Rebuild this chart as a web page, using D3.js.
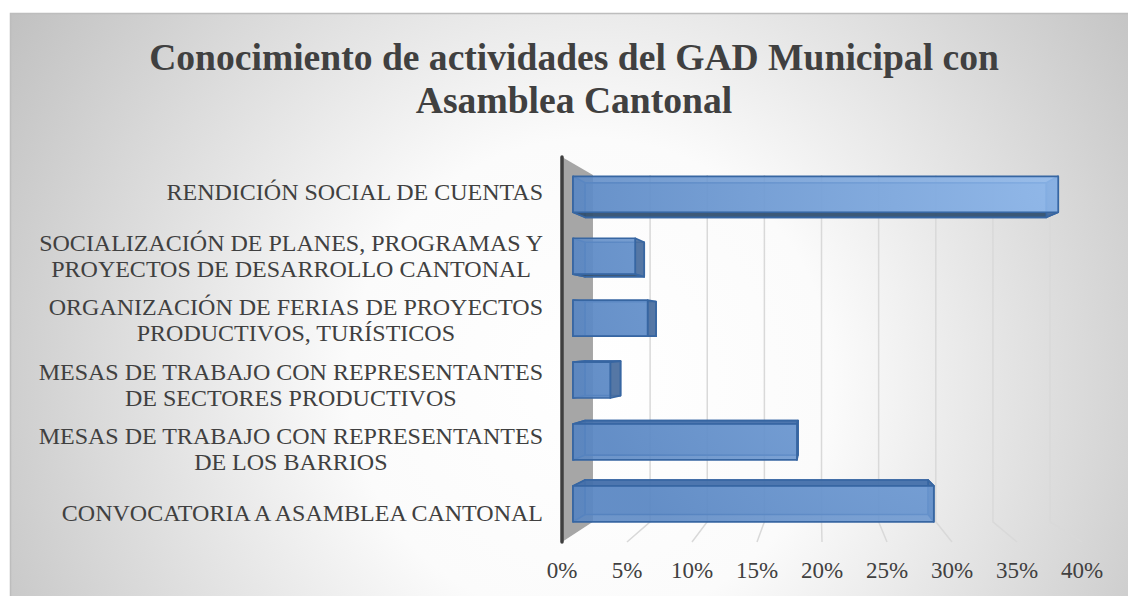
<!DOCTYPE html>
<html lang="es">
<head>
<meta charset="UTF-8">
<title>Conocimiento de actividades del GAD Municipal con Asamblea Cantonal</title>
<script src="https://d3js.org/d3.v7.min.js"></script>
<style>
  body { margin: 0; background: #fff; }
  svg { display: block; }
  svg text { font-family: "Liberation Serif", "Times New Roman", serif; }
</style>
</head>
<body>
<svg width="1128" height="596"></svg>
<script>
// data (top to bottom as in the chart)
const categories = [
  "RENDICIÓN SOCIAL DE CUENTAS",
  "SOCIALIZACIÓN DE PLANES, PROGRAMAS Y\nPROYECTOS DE DESARROLLO CANTONAL",
  "ORGANIZACIÓN DE FERIAS DE PROYECTOS\nPRODUCTIVOS, TURÍSTICOS",
  "MESAS DE TRABAJO CON REPRESENTANTES\nDE SECTORES PRODUCTIVOS",
  "MESAS DE TRABAJO CON REPRESENTANTES\nDE LOS BARRIOS",
  "CONVOCATORIA A ASAMBLEA CANTONAL"
];
const values = [0.39, 0.05, 0.06, 0.03, 0.18, 0.29];
const tickValues = [0, 0.05, 0.10, 0.15, 0.20, 0.25, 0.30, 0.35, 0.40];
const titleLines = ["Conocimiento de actividades del GAD Municipal con", "Asamblea Cantonal"];

const svg = d3.select("svg");
const defs = svg.append("defs");

// chart area background
const bg = defs.append("radialGradient").attr("id", "bg")
  .attr("gradientUnits", "userSpaceOnUse")
  .attr("cx", 590).attr("cy", 380).attr("r", 690);
bg.append("stop").attr("offset", "0%").attr("stop-color", "#ffffff");
bg.append("stop").attr("offset", "35%").attr("stop-color", "#fbfbfb");
bg.append("stop").attr("offset", "100%").attr("stop-color", "#c0c0c0");

const barGrad = defs.append("radialGradient").attr("id", "barGrad")
  .attr("gradientUnits", "userSpaceOnUse")
  .attr("cx", 1060).attr("cy", 185).attr("r", 520);
barGrad.append("stop").attr("offset", "0%").attr("stop-color", "#90b9ec");
barGrad.append("stop").attr("offset", "100%").attr("stop-color", "#5a87c3");

svg.append("rect")
  .attr("x", 10.5).attr("y", 13.5).attr("width", 1130).attr("height", 590)
  .attr("fill", "url(#bg)").attr("stroke", "#bdbdbd").attr("stroke-width", 1.5);

// title
svg.append("text")
  .attr("x", 574).attr("y", 70)
  .attr("text-anchor", "middle")
  .attr("font-size", 37.6).attr("font-weight", "bold").attr("fill", "#404040")
  .selectAll("tspan").data(titleLines).enter().append("tspan")
  .attr("x", 574).attr("dy", (d, i) => i ? 43 : 0)
  .text(d => d);

// scales on the front plane
const x = d3.scaleLinear().domain([0, 0.4]).range([562, 1082]);
const y = d3.scaleBand().domain(categories).range([157, 542])
  .paddingInner(0.42).paddingOuter(0.21);
const yTop = 157, yBot = 542;

// perspective towards the back plane
const vx = 818, vy = 338, kx = 0.879, ky = 0.901;
function P(v, yy, t) {
  const sx = 1 - t * (1 - kx), sy = 1 - t * (1 - ky);
  return [vx + (x(v) - vx) * sx, vy + (yy - vy) * sy];
}
const line = d3.line();

// side wall
svg.append("path")
  .attr("d", line([P(0, yTop, 0), P(0, yTop, 1), P(0, yBot, 1), P(0, yBot, 0)]) + "Z")
  .attr("fill", "#a6a6a6");

// gridlines: back wall + floor
const grid = svg.append("g").attr("stroke", "#d9d9d9").attr("stroke-width", 1.5).attr("fill", "none");
tickValues.filter(d => d > 0).forEach(v => {
  grid.append("path").attr("d", line([P(v, yTop, 1), P(v, yBot, 1), P(v, yBot, 0)]));
});

// wall front edge
svg.append("path")
  .attr("d", line([P(0, yTop, 0), P(0, yBot, 0)]))
  .attr("stroke", "#3f3f3f").attr("stroke-width", 3.5).attr("stroke-linecap", "round");

// bars as boxes
const t1 = 0.355, t2 = 0.744;
const bars = svg.append("g").attr("stroke", "#3766a2").attr("stroke-width", 1.7).attr("stroke-linejoin", "round");
categories.forEach((c, i) => {
  const v = values[i];
  const y0 = y(c), y1 = y(c) + y.bandwidth();
  const f = [P(0, y0, t1), P(v, y0, t1), P(v, y1, t1), P(0, y1, t1)];
  const b = [P(0, y0, t2), P(v, y0, t2), P(v, y1, t2), P(0, y1, t2)];
  const face = (pts, fill, op) => bars.append("path")
    .attr("d", line(pts) + "Z").attr("fill", fill).attr("fill-opacity", op);
  face(b, "#5a87c3", 0.5);
  face([f[0], b[0], b[3], f[3]], "#4b70a3", 0.6);
  if (b[0][1] < f[0][1]) face([f[0], f[1], b[1], b[0]], "#4470aa", 0.92); // top face
  if (b[3][1] > f[3][1]) face([f[3], f[2], b[2], b[3]], "#33506f", 0.92); // bottom face
  face([f[1], b[1], b[2], f[2]], "#4b6f9e", 0.9);
  face(f, "url(#barGrad)", 0.88);
});

// category labels
const labels = svg.append("g").attr("font-size", 24).attr("fill", "#404040")
  .attr("text-anchor", "middle");
categories.forEach(c => {
  const lines = c.split("\n");
  const g = labels.append("text");
  const cy = y(c) + y.bandwidth() / 2 + 3;
  lines.forEach((l, j) => {
    g.append("tspan").attr("x", 0)
      .attr("y", cy + (j - (lines.length - 1) / 2) * 26 + 8)
      .text(l);
  });
  const w = g.node().getBBox().width;
  g.selectAll("tspan").attr("x", 543 - w / 2);
});

// value axis labels
svg.append("g").selectAll("text").data(tickValues).enter().append("text")
  .attr("x", d => x(d)).attr("y", 578)
  .attr("text-anchor", "middle").attr("font-size", 23).attr("fill", "#404040")
  .text(d3.format(".0%"));
</script>
</body>
</html>
